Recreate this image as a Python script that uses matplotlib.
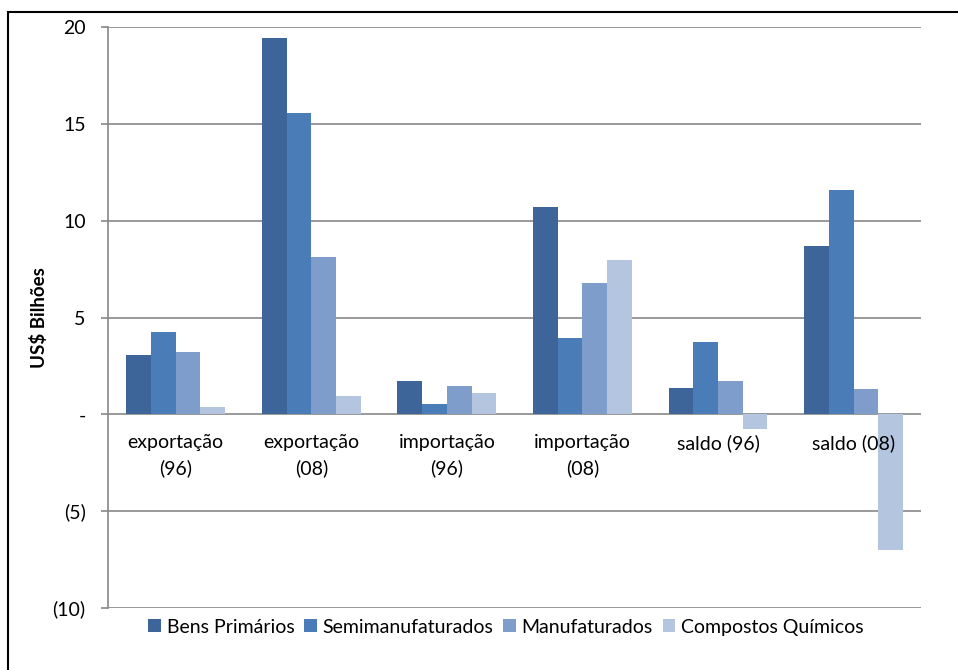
import numpy as np
import matplotlib.pyplot as plt
from matplotlib.patches import Rectangle

categories = ["exportação\n(96)", "exportação\n(08)", "importação\n(96)",
              "importação\n(08)", "saldo (96)", "saldo (08)"]
series = ["Bens Primários", "Semimanufaturados", "Manufaturados", "Compostos Químicos"]
bens = [3.08, 19.45, 1.71, 10.72, 1.37, 8.69]
semi = [4.23, 15.56, 0.51, 3.94, 3.73, 11.60]
manu = [3.22, 8.14, 1.47, 6.79, 1.73, 1.32]
comp = [0.36, 0.96, 1.11, 7.98, -0.77, -7.01]
colors = ["#3D6599", "#4A7DB8", "#7F9DCB", "#B4C5E0"]

plt.rcParams['font.family'] = ['Lato', 'DejaVu Sans']

fig = plt.figure(figsize=(9.58, 6.70), dpi=100)
ax = fig.add_axes([0.1127, 0.0925, 0.849, 0.8672])

x = np.arange(len(categories))
w = 0.729 / 4
for k, (vals, name) in enumerate(zip([bens, semi, manu, comp], series)):
  ax.bar(x + (k - 1.5) * w, vals, w, color=colors[k], label=name, zorder=3)

ax.set_xlim(-0.5, len(categories) - 0.5)
ax.set_ylim(-10, 20)
yt = [-10, -5, 0, 5, 10, 15, 20]
ax.set_yticks(yt)
ax.set_yticklabels(["(10)", "(5)", "-", "5", "10", "15", "20"], fontsize=14)
ax.set_xticks([])
ax.yaxis.grid(True, color="#888888", linewidth=1.2, zorder=1)
ax.tick_params(axis="y", direction="out", length=5, width=1.2, color="#888888", pad=11)
for s in ["top", "right", "bottom"]:
  ax.spines[s].set_visible(False)
ax.spines["left"].set_color("#888888")
ax.spines["left"].set_linewidth(1.2)

# category labels sit just under the zero line, like Excel does
for i, c in enumerate(categories):
  ax.annotate(c, (i, 0), xytext=(0, -14), textcoords="offset points",
              ha="center", va="top", fontsize=14, linespacing=1.6)

ax.set_ylabel("US$ Bilhões", fontsize=13.5, fontweight="bold", labelpad=3)

fig.legend(loc="center", bbox_to_anchor=(0.528, 0.064), ncol=4, frameon=False,
           fontsize=14, handlelength=0.65, handleheight=0.65, handletextpad=0.3,
           columnspacing=0.5)

# outer black frame of the chart area
fig.patches.append(Rectangle((8 / 958, -0.1), 1.2, 1 - 12 / 670 + 0.1,
                             transform=fig.transFigure, fill=False,
                             edgecolor="black", linewidth=1.5))

fig.savefig("out.png", dpi=100)
